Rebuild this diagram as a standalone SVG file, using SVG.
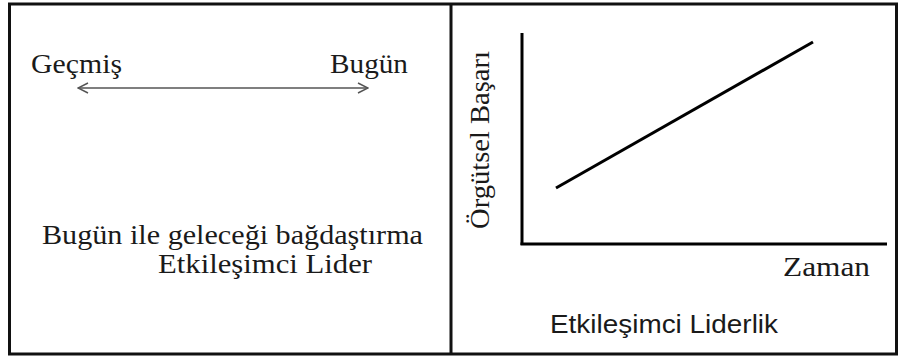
<svg xmlns="http://www.w3.org/2000/svg" width="899" height="358" viewBox="0 0 899 358">
<style>
.serif{font-family:"Liberation Serif","Times New Roman",serif;fill:#1a1a1a}
.sans{font-family:"Liberation Sans",Arial,sans-serif;fill:#1a1a1a}
.frame{fill:none;stroke:#111;stroke-width:3}
.axis{stroke:#000;stroke-width:3;fill:none}
</style>
<defs>
<marker id="chev" viewBox="0 0 12 12" refX="11" refY="6" markerWidth="12" markerHeight="12" markerUnits="userSpaceOnUse" orient="auto-start-reverse">
<path d="M1,1 L11,6 L1,11" fill="none" stroke="#555" stroke-width="1.5"/>
</marker>
</defs>
<rect width="899" height="358" fill="#fff"/>
<g id="frame">
<rect class="frame" x="9.5" y="4" width="887" height="350"/>
<line class="frame" x1="451" y1="4" x2="451" y2="354"/>
</g>
<g id="left-panel">
<text class="serif" x="31" y="73" font-size="28" textLength="91" lengthAdjust="spacingAndGlyphs">Geçmiş</text>
<text class="serif" x="330" y="73" font-size="28" textLength="78" lengthAdjust="spacingAndGlyphs">Bugün</text>
<text class="serif" x="42" y="244" font-size="28" textLength="381" lengthAdjust="spacingAndGlyphs">Bugün ile geleceği bağdaştırma</text>
<text class="serif" x="158" y="273" font-size="28" textLength="214" lengthAdjust="spacingAndGlyphs">Etkileşimci Lider</text>
</g>
<g id="right-panel">
<line class="axis" x1="522" y1="33" x2="522" y2="245"/>
<line class="axis" x1="520.5" y1="244" x2="887" y2="244"/>
<text class="serif" transform="translate(489,140) rotate(-90)" x="0" y="0" font-size="28" text-anchor="middle" textLength="178" lengthAdjust="spacingAndGlyphs">Örgütsel Başarı</text>
<text class="serif" x="783" y="276" font-size="28" textLength="87" lengthAdjust="spacingAndGlyphs">Zaman</text>
<text class="sans" x="550" y="333" font-size="25" textLength="228" lengthAdjust="spacingAndGlyphs">Etkileşimci Liderlik</text>
</g>
<g id="connectors">
<line x1="78" y1="88" x2="368" y2="88" stroke="#555" stroke-width="1.5" marker-start="url(#chev)" marker-end="url(#chev)"/>
<line x1="556" y1="188" x2="813" y2="42" stroke="#000" stroke-width="3"/>
</g>
</svg>
